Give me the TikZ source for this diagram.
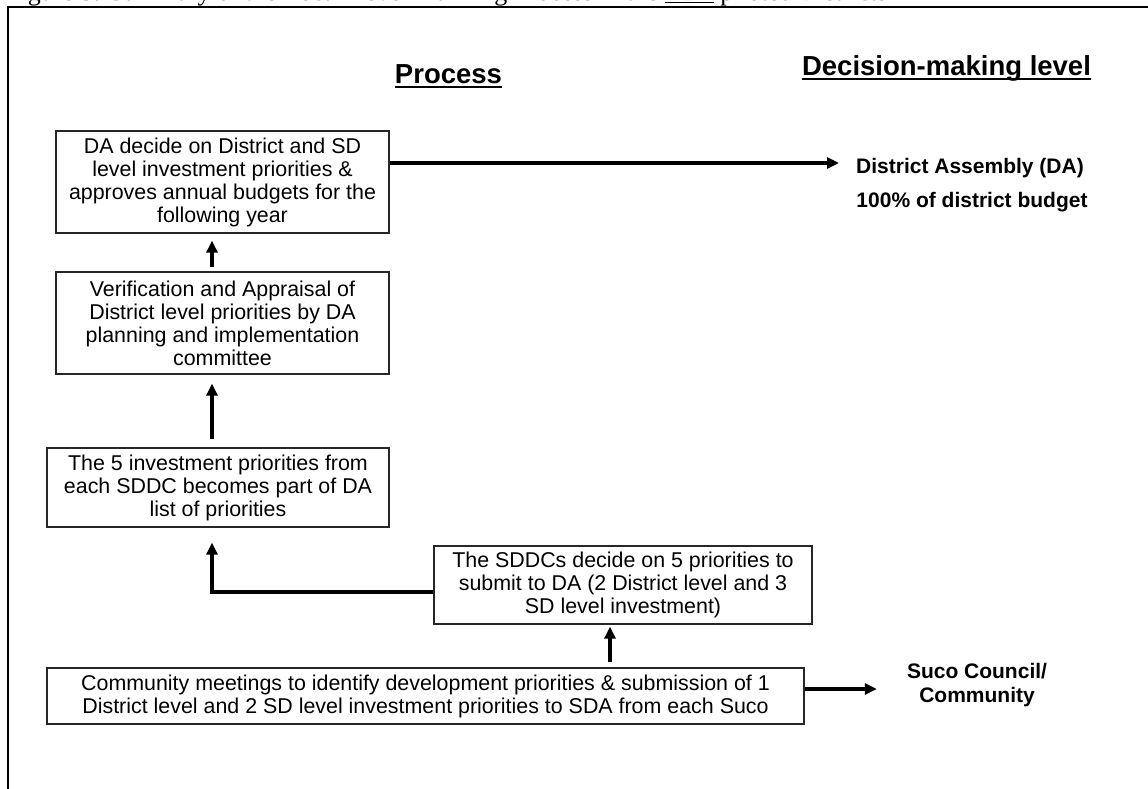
\documentclass[tikz,border=0pt]{standalone}
\usepackage{fontspec}
\setmainfont{Liberation Sans}
\newfontfamily\capfont{Liberation Serif}
\usetikzlibrary{arrows.meta}
\begin{document}
\begin{tikzpicture}[x=1pt,y=-1pt,
  box/.style={draw=black!85, line width=1.3pt, align=center, inner sep=0pt,
    font=\fontsize{21.4}{23}\selectfont},
  arr/.style={line width=3.6pt, -{Triangle[length=12pt,width=11pt]}},
  head/.style={font=\bfseries\fontsize{27.5}{30}\selectfont, inner sep=0pt},
  lab/.style={font=\bfseries\fontsize{21}{24}\selectfont, inner sep=0pt, align=center},
  uline/.style={line width=2pt}]
\useasboundingbox (0,0) rectangle (1148,789);
% caption (cut at the top edge)
\begin{scope}
\clip (0,0) rectangle (1148,7);
\node[anchor=base west, inner sep=0pt, font=\capfont\fontsize{26}{26}\selectfont] (cap) at (6,1)
  {Figure 3: Summary of the Local Level Planning Process in the \underline{LDP} piloted Districts};
\end{scope}
% frame
\draw[line width=2pt] (7.5,789) -- (7.5,7.5) -- (1148,7.5);
% headings
\node[head, anchor=base] (hp) at (448.5,84) {Process};
\node[head, anchor=base] (hd) at (946.5,76) {Decision-making level};
\draw[uline] ([yshift=-3.5pt]hp.base west) -- ([yshift=-3.5pt]hp.base east);
\draw[uline] ([yshift=-3.5pt]hd.base west) -- ([yshift=-3.5pt]hd.base east);
% boxes
\node[box, minimum width=333pt, minimum height=102pt] (b1) at (222.5,182)
  {DA decide on District and SD\\level investment priorities \&\\approves annual budgets for the\\following year};
\node[box, minimum width=333pt, minimum height=102pt] (b2) at (222.5,323)
  {Verification and Appraisal of\\District level priorities by DA\\planning and implementation\\committee};
\node[box, minimum width=342pt, minimum height=79pt] (b3) at (218,487.5)
  {The 5 investment priorities from\\each SDDC becomes part of DA\\list of priorities};
\node[box, minimum width=378pt, minimum height=78pt] (b4) at (623,585)
  {The SDDCs decide on 5 priorities to\\submit to DA (2 District level and 3\\SD level investment)};
\node[box, minimum width=757pt, minimum height=56pt] (b5) at (425.5,696)
  {Community meetings to identify development priorities \& submission of 1\\District level and 2 SD level investment priorities to SDA from each Suco};
% right-hand labels
\node[lab] (da) at (970,168) {District Assembly (DA)};
\node[lab] (budget) at (972,202) {100\% of district budget};
\node[lab] (suco) at (977,685) {Suco Council/\\Community};
% spine coordinates
\coordinate (sp) at (212,0);
\coordinate (cx) at (610,0);
% connectors
\draw[arr, shorten >=17pt] ([yshift=19pt]b1.east) -- ([yshift=19pt]b1.east -| da.west);
\draw[arr, shorten <=4pt, shorten >=7pt] (b2.north -| sp) -- (b1.south -| sp);
\draw[arr, shorten <=8pt, shorten >=9pt] (b3.north -| sp) -- (b2.south -| sp);
\draw[arr, shorten >=15pt] ([yshift=-7pt]b4.west) -| (b3.south -| sp);
\draw[arr, shorten <=5pt, shorten >=2pt] (b5.north -| cx) -- (b4.south -| cx);
\draw[arr, shorten >=30pt] ([yshift=7pt]b5.east) -- ([yshift=7pt]b5.east -| suco.west);
\end{tikzpicture}
\end{document}
